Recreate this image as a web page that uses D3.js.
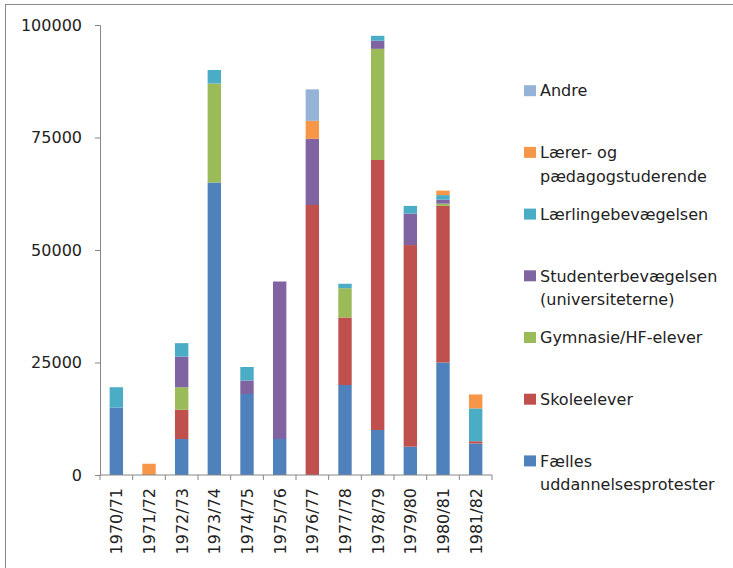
<!DOCTYPE html>
<html>
<head>
<meta charset="utf-8">
<script src="https://cdn.jsdelivr.net/npm/d3@7"></script>
<style>
  html, body { margin: 0; padding: 0; background: #fff; }
  svg { display: block; }
  text { font-family: "DejaVu Sans", sans-serif; fill: #222; }
</style>
</head>
<body>
<svg id="chart" width="733" height="568"></svg>
<script>
// ---- data ----
const categories = ["1970/71","1971/72","1972/73","1973/74","1974/75","1975/76","1976/77","1977/78","1978/79","1979/80","1980/81","1981/82"];
const seriesNames = ["Fælles uddannelsesprotester","Skoleelever","Gymnasie/HF-elever","Studenterbevægelsen (universiteterne)","Lærlingebevægelsen","Lærer- og pædagogstuderende","Andre"];
const faelles     = [15000,    0, 8000, 65000, 18000,  8000,     0, 20000, 10000,  6300, 25000, 7000];
const skoleelever = [    0,    0, 6500,     0,     0,     0, 60000, 15000, 60000, 44800, 34800,  500];
const gymnasie    = [    0,    0, 5000, 22000,     0,     0,     0,  6500, 24700,     0,   500,    0];
const studenter   = [    0,    0, 6800,     0,  3000, 35000, 14700,     0,  1800,  7000,   900,    0];
const laerlinge   = [ 4500,    0, 3000,  3000,  3000,     0,     0,  1000,  1100,  1700,  1000, 7300];
const laerer      = [    0, 2500,    0,     0,     0,     0,  4000,     0,     0,     0,  1000, 3100];
const andre       = [    0,    0,    0,     0,     0,     0,  7000,     0,     0,     0,     0,    0];
const yTicks = [0, 25000, 50000, 75000, 100000];
// legend labels (top to bottom), split into lines
const legendLines = [
  ["Andre"],
  ["Lærer- og", "pædagogstuderende"],
  ["Lærlingebevægelsen"],
  ["Studenterbevægelsen", "(universiteterne)"],
  ["Gymnasie/HF-elever"],
  ["Skoleelever"],
  ["Fælles", "uddannelsesprotester"]
];

// ---- styles ----
const colors = ["#4F81BD","#C0504D","#9BBB59","#8064A2","#4BACC6","#F79646","#95B3D7"];
const axisColor = "#868686";

const seriesValues = [faelles, skoleelever, gymnasie, studenter, laerlinge, laerer, andre];
const table = categories.map((c, i) => {
  const row = { cat: c };
  seriesNames.forEach((s, k) => row[s] = seriesValues[k][i]);
  return row;
});
const stacked = d3.stack().keys(seriesNames)(table);

const svg = d3.select("#chart");

// outer border
svg.append("rect").attr("x", 5.5).attr("y", 4.5).attr("width", 760).attr("height", 600)
  .attr("fill", "none").attr("stroke", "#8a8a8a").attr("stroke-width", 1);

const x = d3.scaleBand().domain(categories).range([100, 492]).paddingInner(0.59).paddingOuter(0.295);
const y = d3.scaleLinear().domain([0, 100000]).range([475, 25]);

// bars
svg.append("g").selectAll("g").data(stacked).join("g")
  .attr("fill", (d, i) => colors[i])
  .selectAll("rect").data(d => d).join("rect")
  .attr("x", d => x(d.data.cat))
  .attr("width", x.bandwidth())
  .attr("y", d => y(d[1]))
  .attr("height", d => y(d[0]) - y(d[1]));

// y axis
const yAxis = d3.axisLeft(y).tickValues(yTicks).tickSize(5).tickPadding(13).tickFormat(d3.format("d"));
const gy = svg.append("g").attr("transform", "translate(100,0)").call(yAxis);
gy.selectAll("path, line").attr("stroke", axisColor);
gy.selectAll("text").style("font-size", "16px").attr("fill", "#222");

// x axis (ticks at band boundaries)
const gx = svg.append("g").attr("transform", "translate(0,475)");
gx.append("line").attr("x1", 100).attr("x2", 492).attr("stroke", axisColor);
const step = x.step();
gx.selectAll("line.tk").data(d3.range(categories.length + 1)).join("line")
  .attr("class", "tk")
  .attr("x1", i => 100 + i * step).attr("x2", i => 100 + i * step)
  .attr("y1", 0).attr("y2", 5).attr("stroke", axisColor);
gx.selectAll("text").data(categories).join("text")
  .attr("transform", d => `translate(${x(d) + x.bandwidth() / 2},13) rotate(-90)`)
  .attr("dy", "0.38em")
  .attr("text-anchor", "end")
  .style("font-size", "16px")
  .text(d => d);

// legend
const legendTop = 90.7, legendStep = 61.7, lineH = 23.5;
const lg = svg.append("g");
legendLines.forEach((lines, i) => {
  const cy = legendTop + i * legendStep;
  const colorIdx = seriesNames.length - 1 - i;
  lg.append("rect").attr("x", 524).attr("y", cy - 5.5).attr("width", 12).attr("height", 11)
    .attr("fill", colors[colorIdx]);
  lines.forEach((t, j) => {
    lg.append("text").attr("x", 540).attr("y", cy + j * lineH).attr("dy", "0.36em")
      .style("font-size", "16px").text(t);
  });
});
</script>
</body>
</html>
